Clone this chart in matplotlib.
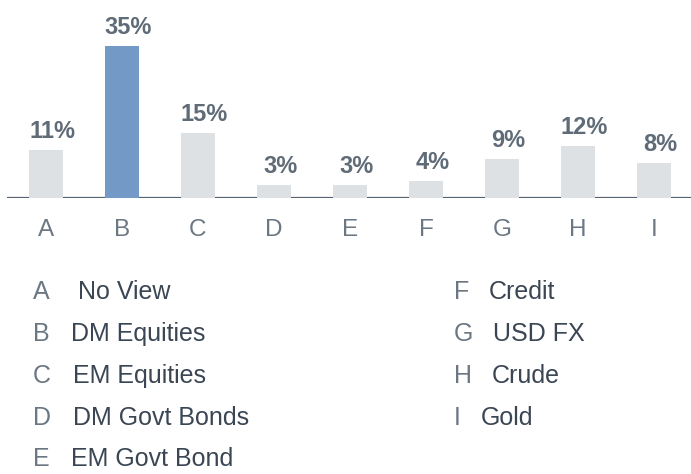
import matplotlib.pyplot as plt

plt.rcParams['font.family'] = ['Liberation Sans', 'DejaVu Sans']

# data
categories = ['A', 'B', 'C', 'D', 'E', 'F', 'G', 'H', 'I']
values = [11, 35, 15, 3, 3, 4, 9, 12, 8]
names = ['No View', 'DM Equities', 'EM Equities', 'DM Govt Bonds', 'EM Govt Bond',
         'Credit', 'USD FX', 'Crude', 'Gold']
highlight = 'B'

BLUE = '#7399c6'
GREY_BAR = '#dde1e4'
AXIS = '#56626e'
TICK = '#6b7783'
LABEL = '#5f6b77'
NAME = '#3a4653'

W, H = 691, 474
fig = plt.figure(figsize=(W / 100, H / 100), dpi=100)
fig.patch.set_facecolor('white')

# axes: baseline at y=198px, spans x 7..691
ax = fig.add_axes([7 / W, (H - 198) / H, 684 / W, 198 / H])
ax.set_xlim(-0.513, 8.487)
ax.set_ylim(0, 45.5)

x = list(range(len(categories)))
colors = [BLUE if c == highlight else GREY_BAR for c in categories]
ax.axhline(0, color=AXIS, linewidth=1.6, zorder=1)
bars = ax.bar(x, values, width=0.447, color=colors, zorder=2)

for b, v in zip(bars, values):
    ax.annotate(f'{v}%', (b.get_x() + b.get_width() / 2, b.get_height()),
                xytext=(4.5, 8.5), textcoords='offset points', ha='center', va='baseline',
                fontsize=17, fontweight='bold', color=LABEL)

ax.set_xticks(x)
ax.set_xticklabels(categories, fontsize=17.5, color=TICK)
ax.tick_params(axis='x', length=0, pad=15)
ax.set_yticks([])
for s in ax.spines.values():
    s.set_visible(False)
ax.patch.set_alpha(0)

# legend below the chart, two columns (pixel layout)
row_y = [292, 334, 376, 418, 459]
name_x = [78, 71, 73, 73, 71, 489, 493, 492, 481]
for i, (c, n) in enumerate(zip(categories, names)):
    lx = 33 if i < 5 else 454
    y = row_y[i % 5]
    fig.text(lx / W, 1 - y / H, c, fontsize=18, color=TICK, va='center', ha='left')
    fig.text(name_x[i] / W, 1 - y / H, n, fontsize=18, color=NAME, va='center', ha='left')

fig.savefig('out.png', dpi=100, facecolor='white')
